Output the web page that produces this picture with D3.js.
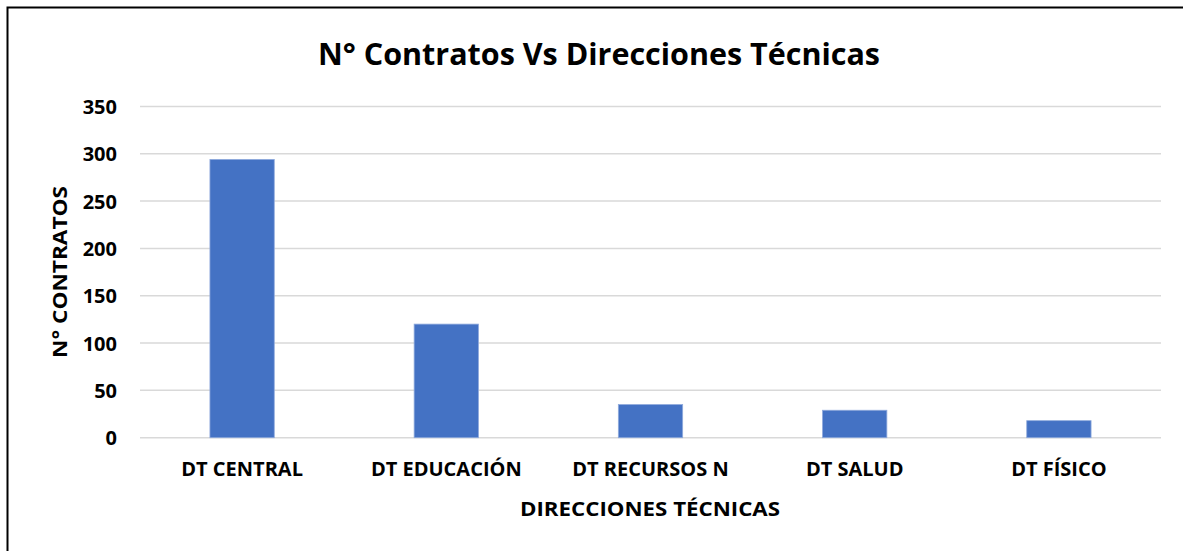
<!DOCTYPE html>
<html>
<head>
<meta charset="utf-8">
<script src="https://cdn.jsdelivr.net/npm/d3@7"></script>
<style>
  body { margin: 0; background: #fff; }
  text { font-family: "Open Sans", sans-serif; font-weight: bold; fill: #000; }
</style>
</head>
<body>
<svg id="chart"></svg>
<script>
const width = 1183;
const height = 551;

const categories = ['DT CENTRAL', 'DT EDUCACIÓN', 'DT RECURSOS N', 'DT SALUD', 'DT FÍSICO'];
const contratos = [294, 120, 35, 29, 18];
const yTicks = [0, 50, 100, 150, 200, 250, 300, 350];

const margin = { top: 107, right: 22, bottom: 113, left: 140 };
const font = '"Open Sans", sans-serif';

const svg = d3.select('#chart')
    .attr('width', width)
    .attr('height', height);

// frame (only left / top edge visible in the original)
svg.append('path')
    .attr('d', `M7.5,${height} V7.5 H${width}`)
    .attr('fill', 'none')
    .attr('stroke', '#000')
    .attr('stroke-width', 2);

const x = d3.scaleBand()
    .domain(categories)
    .range([margin.left, width - margin.right])
    .paddingInner(0.685)
    .paddingOuter(0.3425);

const y = d3.scaleLinear()
    .domain([0, 350])
    .range([height - margin.bottom - 0.3, margin.top - 0.6]);

// gridlines
svg.append('g')
    .selectAll('line')
    .data(yTicks)
    .join('line')
    .attr('x1', margin.left)
    .attr('x2', width - margin.right)
    .attr('y1', d => y(d))
    .attr('y2', d => y(d))
    .attr('stroke', '#d9d9d9')
    .attr('stroke-width', 1.5);

// y axis labels
const yAxis = d3.axisLeft(y).tickValues(yTicks).tickSize(0).tickPadding(23);
svg.append('g')
    .attr('transform', `translate(${margin.left},0)`)
    .call(yAxis)
    .attr('font-family', font)
    .attr('font-size', 20)
    .call(g => g.select('.domain').remove())
    .selectAll('text')
    .attr('dy', '0.36em')
    .style('font-weight', 'bold');

// bars
svg.append('g')
    .selectAll('rect')
    .data(contratos)
    .join('rect')
    .attr('x', (d, i) => x(categories[i]))
    .attr('width', x.bandwidth())
    .attr('y', d => y(d))
    .attr('height', d => y(0) - y(d))
    .attr('fill', '#4472c4')
    .attr('stroke', '#8faadc')
    .attr('stroke-width', 0.8);

// x axis labels
const xAxis = d3.axisBottom(x).tickSize(0).tickPadding(24);
svg.append('g')
    .attr('transform', `translate(0,${y(0)})`)
    .call(xAxis)
    .attr('font-family', font)
    .attr('font-size', 20)
    .call(g => g.select('.domain').remove())
    .selectAll('text')
    .style('font-weight', 'bold');

// title
svg.append('text')
    .attr('x', 599)
    .attr('y', 65)
    .attr('text-anchor', 'middle')
    .attr('font-size', 31)
    .attr('textLength', 562)
    .attr('lengthAdjust', 'spacingAndGlyphs')
    .text('N° Contratos Vs Direcciones Técnicas');

// axis titles
svg.append('text')
    .attr('x', 650)
    .attr('y', 516)
    .attr('text-anchor', 'middle')
    .attr('font-size', 20)
    .attr('textLength', 260)
    .attr('lengthAdjust', 'spacingAndGlyphs')
    .text('DIRECCIONES TÉCNICAS');

svg.append('text')
    .attr('transform', 'translate(67,272) rotate(-90)')
    .attr('text-anchor', 'middle')
    .attr('font-size', 20)
    .attr('textLength', 172)
    .attr('lengthAdjust', 'spacingAndGlyphs')
    .text('N° CONTRATOS');
</script>
</body>
</html>
